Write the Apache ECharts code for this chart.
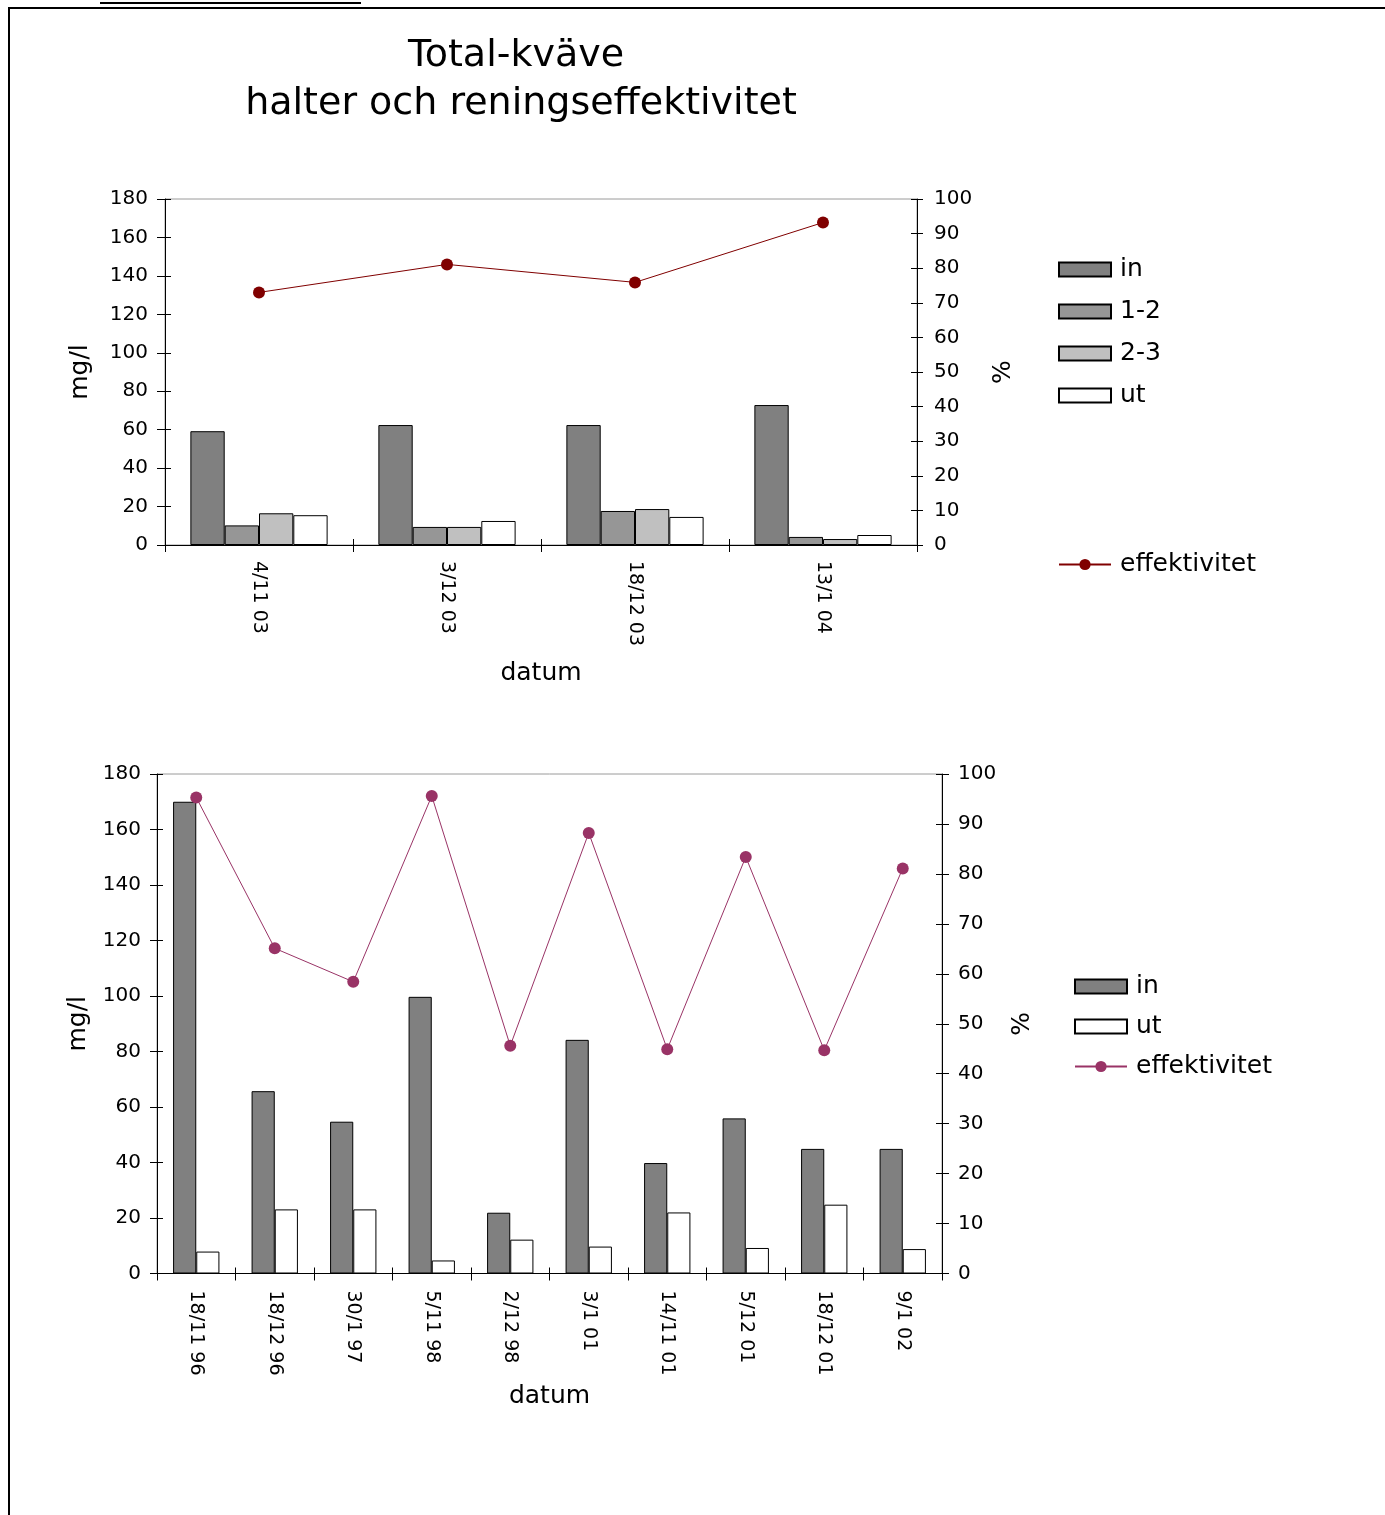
<!DOCTYPE html>
<html>
<head>
<meta charset="utf-8">
<script src="https://cdn.jsdelivr.net/npm/echarts@6/dist/echarts.min.js"></script>
<style>
  html, body { margin: 0; padding: 0; background: #fff; overflow: hidden; }
  #chartTop { position: absolute; left: 0; top: 0; width: 1385px; height: 730px; }
  #chartBottom { position: absolute; left: 0; top: 730px; width: 1385px; height: 785px; }
</style>
</head>
<body>
<div id="chartTop"></div>
<div id="chartBottom"></div>
<script>
// ---- Data: recent sampling campaign (4 dates, four sampling points) ----
const datesA = ['4/11 03', '3/12 03', '18/12 03', '13/1 04'];
const inA    = [59.2, 62.4, 62.4, 72.8];
const s12A   = [10.2, 9.4, 17.7, 4.2];
const s23A   = [16.5, 9.4, 18.7, 3.1];
const utA    = [15.5, 12.5, 14.6, 5.2];
const effA   = [73.0, 81.1, 75.9, 93.2];

// ---- Data: earlier sampling campaigns (in / ut only) ----
const datesB = ['18/11 96', '18/12 96', '30/1 97', '5/11 98', '2/12 98',
                '3/1 01', '14/11 01', '5/12 01', '18/12 01', '9/1 02'];
const inB    = [170.0, 65.7, 54.7, 99.7, 21.9, 84.2, 39.8, 55.9, 44.9, 44.9];
const utB    = [7.9, 23.1, 23.1, 4.7, 12.2, 9.7, 22.0, 9.2, 24.8, 8.8];
const effB   = [95.3, 65.1, 58.4, 95.6, 45.6, 88.2, 44.9, 83.4, 44.7, 81.1];

// ---- Axis scales ----
const mgTicks  = [0, 20, 40, 60, 80, 100, 120, 140, 160, 180];
const pctTicks = [0, 10, 20, 30, 40, 50, 60, 70, 80, 90, 100];

const FONT = 'DejaVu Sans';
const BLACK = '#000';

function valAxis(ticks, pos, o) {
  return {
    type: 'value', position: pos,
    min: ticks[0], max: ticks[ticks.length - 1], interval: ticks[1] - ticks[0],
    name: o.name, nameLocation: 'middle', nameGap: o.nameGap, nameRotate: 90,
    nameTextStyle: { fontFamily: FONT, fontSize: 25, color: BLACK },
    axisLine: { show: true, lineStyle: { color: BLACK, width: 1 } },
    axisTick: { show: true, length: o.tickOut, lineStyle: { color: BLACK, width: 1 } },
    axisLabel: { margin: o.margin, fontFamily: FONT, fontSize: 20, color: BLACK, padding: [5, 0, 0, 0] },
    splitLine: { show: false }
  };
}
// Inner half of the crossing tick marks
function innerTicks(ticks, pos, len) {
  return {
    type: 'value', position: pos,
    min: ticks[0], max: ticks[ticks.length - 1], interval: ticks[1] - ticks[0],
    axisLine: { show: false },
    axisTick: { show: true, inside: true, length: len, lineStyle: { color: BLACK, width: 1 } },
    axisLabel: { show: false }, splitLine: { show: false }
  };
}
function catAxis(dates, o) {
  return {
    type: 'category', data: dates, position: 'bottom',
    name: 'datum', nameLocation: 'middle', nameGap: o.nameGap,
    nameTextStyle: { fontFamily: FONT, fontSize: 25, color: BLACK },
    axisLine: { show: true, lineStyle: { color: BLACK, width: 1 } },
    axisTick: { show: true, length: 7, lineStyle: { color: BLACK, width: 1 } },
    axisLabel: { rotate: -90, margin: o.margin, fontFamily: FONT, fontSize: 19, color: BLACK, interval: 0 },
    splitLine: { show: false }
  };
}
function catInner(dates) {
  return {
    type: 'category', data: dates, position: 'bottom',
    axisLine: { show: false },
    axisTick: { show: true, inside: true, length: 6, lineStyle: { color: BLACK, width: 1 } },
    axisLabel: { show: false }, splitLine: { show: false }
  };
}
function barSeries(name, data, color, catGap) {
  return {
    type: 'bar', name: name, data: data, xAxisIndex: 0, yAxisIndex: 0,
    barGap: '0%', barCategoryGap: catGap,
    itemStyle: { color: color, borderColor: BLACK, borderWidth: 1 },
    emphasis: { disabled: true }, z: 2
  };
}
function effSeries(data, color) {
  return {
    type: 'line', name: 'effektivitet', data: data, xAxisIndex: 0, yAxisIndex: 1,
    symbol: 'circle', symbolSize: 12,
    lineStyle: { color: color, width: 1 },
    itemStyle: { color: color },
    emphasis: { disabled: true }, z: 5
  };
}
// Bar entries get plain rectangles, the line entry keeps its line-with-dot icon
function legendBlock(left, top, names, gap) {
  return {
    show: true, orient: 'vertical', left: left, top: top, padding: 0,
    itemWidth: 52, itemHeight: 14, itemGap: gap,
    selectedMode: false,
    data: names.map(n => (n === 'effektivitet' ? { name: n } : { name: n, icon: 'rect' })),
    textStyle: { fontFamily: FONT, fontSize: 25, color: BLACK, padding: [0, 0, 0, 4] }
  };
}

// ---- Upper chart ----
const chartTop = echarts.init(document.getElementById('chartTop'), null, { renderer: 'canvas' });
chartTop.setOption({
  animation: false,
  backgroundColor: '#fff',
  graphic: [
    { type: 'line', shape: { x1: 8, y1: 8, x2: 1385, y2: 8 }, style: { stroke: BLACK, lineWidth: 2 } },
    { type: 'line', shape: { x1: 9, y1: 7, x2: 9, y2: 730 }, style: { stroke: BLACK, lineWidth: 2 } },
    { type: 'text', x: 100, y: 4,
      style: { text: '3.1.3 Total-kväve', fontFamily: FONT, fontSize: 29, fill: BLACK,
               textAlign: 'left', textVerticalAlign: 'bottom' } },
    { type: 'line', shape: { x1: 100, y1: 3, x2: 361, y2: 3 }, style: { stroke: BLACK, lineWidth: 2 } },
    { type: 'text', x: 516, y: 56,
      style: { text: 'Total-kväve', fontFamily: FONT, fontSize: 38, fill: BLACK,
               textAlign: 'center', textVerticalAlign: 'middle' } },
    { type: 'text', x: 521, y: 104,
      style: { text: 'halter och reningseffektivitet', fontFamily: FONT, fontSize: 38, fill: BLACK,
               textAlign: 'center', textVerticalAlign: 'middle' } }
  ],
  grid: {
    left: 165, top: 199, width: 752, height: 346,
    show: true, borderColor: '#9a9a9a', borderWidth: 1, backgroundColor: 'transparent'
  },
  xAxis: [catAxis(datesA, { nameGap: 116, margin: 16 }), catInner(datesA)],
  yAxis: [
    valAxis(mgTicks, 'left', { name: 'mg/l', nameGap: 72, tickOut: 8, margin: 17 }),
    valAxis(pctTicks, 'right', { name: '%', nameGap: 74, tickOut: 6, margin: 17 }),
    innerTicks(mgTicks, 'left', 6),
    innerTicks(pctTicks, 'right', 6)
  ],
  legend: [
    legendBlock(1058, 257, ['in', '1-2', '2-3', 'ut'], 17),
    legendBlock(1058, 552, ['effektivitet'], 17)
  ],
  series: [
    barSeries('in', inA, '#808080', '27%'),
    barSeries('1-2', s12A, '#969696', '27%'),
    barSeries('2-3', s23A, '#c0c0c0', '27%'),
    barSeries('ut', utA, '#ffffff', '27%'),
    effSeries(effA, '#800000')
  ]
});

// ---- Lower chart ----
const chartBottom = echarts.init(document.getElementById('chartBottom'), null, { renderer: 'canvas' });
chartBottom.setOption({
  animation: false,
  backgroundColor: '#fff',
  graphic: [
    { type: 'line', shape: { x1: 9, y1: 0, x2: 9, y2: 785 }, style: { stroke: BLACK, lineWidth: 2 } }
  ],
  grid: {
    left: 157, top: 44, width: 785, height: 499.5,
    show: true, borderColor: '#9a9a9a', borderWidth: 1, backgroundColor: 'transparent'
  },
  xAxis: [catAxis(datesB, { nameGap: 110, margin: 17 }), catInner(datesB)],
  yAxis: [
    valAxis(mgTicks, 'left', { name: 'mg/l', nameGap: 66, tickOut: 7, margin: 16 }),
    valAxis(pctTicks, 'right', { name: '%', nameGap: 68, tickOut: 7, margin: 16 }),
    innerTicks(mgTicks, 'left', 6),
    innerTicks(pctTicks, 'right', 6)
  ],
  legend: [
    legendBlock(1074, 244, ['in', 'ut', 'effektivitet'], 15)
  ],
  series: [
    barSeries('in', inB, '#808080', '41%'),
    barSeries('ut', utB, '#ffffff', '41%'),
    effSeries(effB, '#993366')
  ]
});
</script>
</body>
</html>
